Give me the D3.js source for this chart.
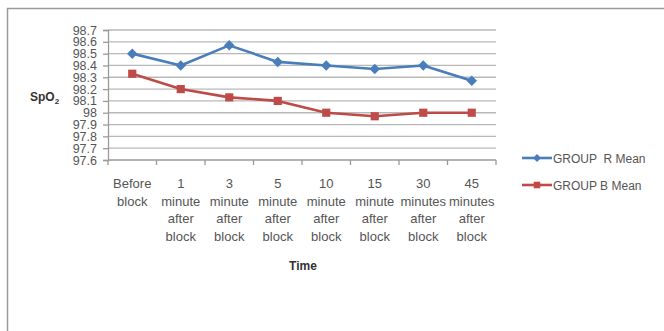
<!DOCTYPE html>
<html>
<head>
<meta charset="utf-8">
<script src="https://cdnjs.cloudflare.com/ajax/libs/d3/7.8.5/d3.min.js"></script>
<style>
  html, body { margin: 0; padding: 0; background: #ffffff; }
  svg { display: block; font-family: "Liberation Sans", Arial, sans-serif; }
</style>
</head>
<body>
<svg id="chart" width="664" height="331"></svg>
<script>
// Time points (each label wraps onto several lines)
const categories = [
  ["Before", "block"],
  ["1", "minute", "after", "block"],
  ["3", "minute", "after", "block"],
  ["5", "minute", "after", "block"],
  ["10", "minute", "after", "block"],
  ["15", "minute", "after", "block"],
  ["30", "minutes", "after", "block"],
  ["45", "minutes", "after", "block"]
];
const groupR = [98.50, 98.40, 98.57, 98.43, 98.40, 98.37, 98.40, 98.27];
const groupB = [98.33, 98.20, 98.13, 98.10, 98.00, 97.97, 98.00, 98.00];
const yTicks = [97.6, 97.7, 97.8, 97.9, 98.0, 98.1, 98.2, 98.3, 98.4, 98.5, 98.6, 98.7];
const seriesNames = ["GROUP  R Mean", "GROUP B Mean"];

const svg = d3.select("#chart");

// chart frame
svg.append("rect")
  .attr("x", 7.5).attr("y", 8.5)
  .attr("width", 680).attr("height", 340)
  .attr("fill", "#ffffff")
  .attr("stroke", "#9a9a9a")
  .attr("stroke-width", 1.5);

const plot = { left: 108, right: 496, top: 30, bottom: 160 };
const idx = categories.map((d, i) => i);

const x = d3.scaleBand().domain(idx).range([plot.left, plot.right]).padding(0);
const y = d3.scaleLinear().domain([97.6, 98.7]).range([plot.bottom, plot.top]);
const cx = i => x(i) + x.bandwidth() / 2;

// horizontal gridlines
svg.append("g")
  .selectAll("line")
  .data(yTicks.slice(1))
  .join("line")
  .attr("x1", plot.left).attr("x2", plot.right)
  .attr("y1", d => y(d)).attr("y2", d => y(d))
  .attr("stroke", "#b8b8b8")
  .attr("stroke-width", 1.3);

// y axis
const yAxis = svg.append("g")
  .attr("transform", `translate(${plot.left},0)`)
  .call(d3.axisLeft(y).tickValues(yTicks).tickSize(5).tickPadding(6)
    .tickFormat(d => String(+d.toFixed(1))));
yAxis.select(".domain").attr("stroke", "#9a9a9a").attr("stroke-width", 1.3);
yAxis.selectAll(".tick line").attr("stroke", "#9a9a9a").attr("stroke-width", 1.3);
yAxis.selectAll(".tick text")
  .attr("fill", "#555555")
  .style("font-size", "12.5px")
  .style("font-family", "'Liberation Sans', Arial, sans-serif");

// x axis line with ticks between categories
const xAxis = svg.append("g");
xAxis.append("line")
  .attr("x1", plot.left).attr("x2", plot.right)
  .attr("y1", y(97.6)).attr("y2", y(97.6))
  .attr("stroke", "#9a9a9a").attr("stroke-width", 1.3);
xAxis.selectAll("line.tk")
  .data(idx.map(i => x(i)).concat([plot.right]))
  .join("line")
  .attr("class", "tk")
  .attr("x1", d => d).attr("x2", d => d)
  .attr("y1", y(97.6)).attr("y2", y(97.6) + 5)
  .attr("stroke", "#9a9a9a").attr("stroke-width", 1.3);

// category labels
const lab = svg.append("g")
  .selectAll("text")
  .data(categories)
  .join("text")
  .attr("text-anchor", "middle")
  .attr("fill", "#555555")
  .style("font-size", "13px");
lab.each(function(lines, i) {
  d3.select(this).selectAll("tspan")
    .data(lines)
    .join("tspan")
    .attr("x", cx(i))
    .attr("y", (d, k) => 188 + k * 17.7)
    .text(d => d);
});

// axis titles
svg.append("text")
  .attr("x", 303).attr("y", 270)
  .attr("text-anchor", "middle")
  .attr("fill", "#333333")
  .style("font-size", "12px").style("font-weight", "bold")
  .text("Time");

const yt = svg.append("text")
  .attr("x", 30).attr("y", 101)
  .attr("fill", "#333333")
  .style("font-size", "12px").style("font-weight", "bold");
yt.append("tspan").text("SpO");
yt.append("tspan").attr("dy", 3).style("font-size", "8px").text("2");

// series
const colors = ["#4a7ebb", "#be4b48"];
const series = [groupR, groupB];
const line = d3.line().x((d, i) => cx(i)).y(d => y(d));

series.forEach((vals, s) => {
  svg.append("path")
    .datum(vals)
    .attr("d", line)
    .attr("fill", "none")
    .attr("stroke", colors[s])
    .attr("stroke-width", 2.6)
    .attr("stroke-linejoin", "round");
});

const diamond = d3.symbol().type(d3.symbolDiamond2).size(70);
const square = d3.symbol().type(d3.symbolSquare2).size(85);

svg.append("g").selectAll("path")
  .data(groupR)
  .join("path")
  .attr("d", diamond)
  .attr("transform", (d, i) => `translate(${cx(i)},${y(d)})`)
  .attr("fill", colors[0]);

svg.append("g").selectAll("path")
  .data(groupB)
  .join("path")
  .attr("d", square)
  .attr("transform", (d, i) => `translate(${cx(i)},${y(d)})`)
  .attr("fill", colors[1]);

// legend
const legend = svg.append("g");
const legY = [158, 185];
const markers = [d3.symbol().type(d3.symbolDiamond2).size(40), d3.symbol().type(d3.symbolSquare2).size(55)];
seriesNames.forEach((name, s) => {
  legend.append("line")
    .attr("x1", 522).attr("x2", 552)
    .attr("y1", legY[s]).attr("y2", legY[s])
    .attr("stroke", colors[s]).attr("stroke-width", 2.6);
  legend.append("path")
    .attr("d", markers[s])
    .attr("transform", `translate(537,${legY[s]})`)
    .attr("fill", colors[s]);
  legend.append("text")
    .attr("x", 553).attr("y", legY[s] + 4.5)
    .attr("fill", "#555555")
    .style("font-size", "12px")
    .style("white-space", "pre")
    .attr("xml:space", "preserve")
    .text(name);
});
</script>
</body>
</html>
